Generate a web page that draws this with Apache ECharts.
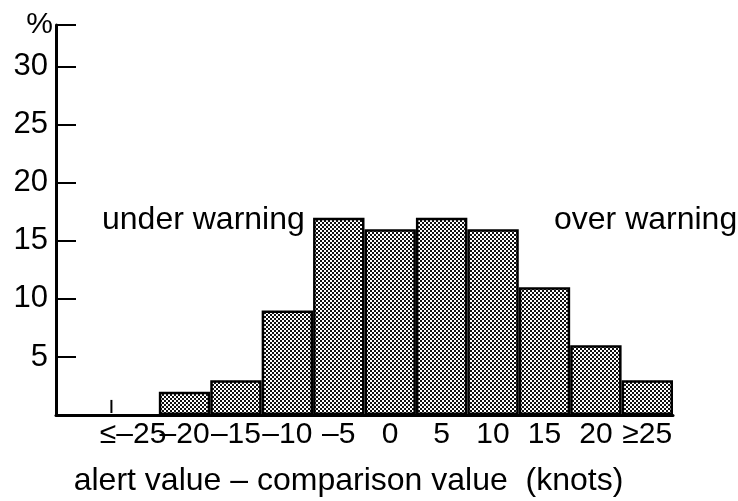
<!DOCTYPE html>
<html lang="en">
<head>
    <meta charset="UTF-8">
    <title>alert value - comparison value</title>
    <style>
        html, body {
            margin: 0;
            padding: 0;
            background: #ffffff;
        }
        #main {
            width: 738px;
            height: 501px;
        }
    </style>
    <script type="text/javascript" src="https://cdn.jsdelivr.net/npm/echarts@6/dist/echarts.min.js"></script>
</head>
<body>
<div id="main"></div>
<script type="text/javascript">
    // bins (knots); first slot is an empty gap next to the y axis
    var bins = ['', '\u2264\u201325', '\u201320', '\u201315', '\u201310', '\u20135', '0', '5', '10', '15', '20', '\u226525'];
    var percent = [null, null, 2, 3, 9, 17, 16, 17, 16, 11, 6, 3];
    // little vertical stroke drawn at the <=-25 bin
    var smallMark = [null, 1.3, null, null, null, null, null, null, null, null, null, null];
    var yTicks = [5, 10, 15, 20, 25, 30];

    // halftone-like fill
    var tile = document.createElement('canvas');
    tile.width = 4;
    tile.height = 4;
    var ctx = tile.getContext('2d');
    ctx.fillStyle = '#ffffff';
    ctx.fillRect(0, 0, 4, 4);
    ctx.fillStyle = '#111111';
    ctx.fillRect(0, 0, 2, 2);
    ctx.fillRect(2, 2, 2, 2);

    var font = '"Liberation Sans", Arial, Helvetica, sans-serif';

    var markData = [];
    for (var i = 0; i < smallMark.length; i++) {
        if (smallMark[i] != null) markData.push([i, smallMark[i]]);
    }

    var chart = echarts.init(document.getElementById('main'));
    var option = {
        animation: false,
        textStyle: {fontFamily: font},
        grid: {left: 56, right: 65, top: 25, bottom: 86, outerBoundsMode: 'none'},
        xAxis: {
            type: 'category',
            data: bins,
            boundaryGap: true,
            axisLine: {lineStyle: {color: '#000', width: 3}},
            axisTick: {show: false},
            axisLabel: {
                interval: 0,
                color: '#000',
                fontSize: 30,
                fontFamily: font,
                margin: 5
            },
            name: 'alert value \u2013 comparison value  (knots)',
            nameLocation: 'middle',
            nameGap: 50,
            nameTextStyle: {
                color: '#000',
                fontSize: 32,
                fontFamily: font,
                padding: [0, 32, 0, 0]
            }
        },
        yAxis: {
            type: 'value',
            min: 0,
            max: 33.6,
            interval: 5,
            splitLine: {show: false},
            axisLine: {show: true, lineStyle: {color: '#000', width: 3}},
            axisTick: {show: true, inside: true, length: 20, lineStyle: {color: '#000', width: 2}},
            axisLabel: {
                color: '#000',
                fontSize: 31,
                fontFamily: font,
                margin: 8,
                formatter: function (v) {
                    return yTicks.indexOf(v) >= 0 ? String(v) : '';
                }
            },
            name: '%',
            nameLocation: 'end',
            nameGap: -15,
            nameTextStyle: {
                color: '#000',
                fontSize: 30,
                fontFamily: font,
                align: 'right',
                verticalAlign: 'bottom',
                padding: [0, 3, 0, 0]
            }
        },
        series: [{
            name: 'percent',
            type: 'bar',
            data: percent,
            barCategoryGap: '0%',
            itemStyle: {
                color: {image: tile, repeat: 'repeat'},
                borderColor: '#000',
                borderWidth: 2.5
            }
        }, {
            name: 'mark',
            type: 'custom',
            data: markData,
            renderItem: function (params, api) {
                var top = api.coord([api.value(0), api.value(1)]);
                var base = api.coord([api.value(0), 0]);
                var w = api.size([1, 0])[0];
                var x = top[0] - w / 2 + 4;
                return {
                    type: 'line',
                    shape: {x1: x, y1: base[1] - 2, x2: x, y2: top[1]},
                    style: {stroke: '#000', lineWidth: 2}
                };
            }
        }],
        graphic: [{
            type: 'text',
            left: 102,
            top: 204,
            style: {text: 'under warning', fill: '#000', fontSize: 32, fontFamily: font}
        }, {
            type: 'text',
            left: 554,
            top: 204,
            style: {text: 'over warning', fill: '#000', fontSize: 32, fontFamily: font}
        }]
    };
    chart.setOption(option);
</script>
</body>
</html>
